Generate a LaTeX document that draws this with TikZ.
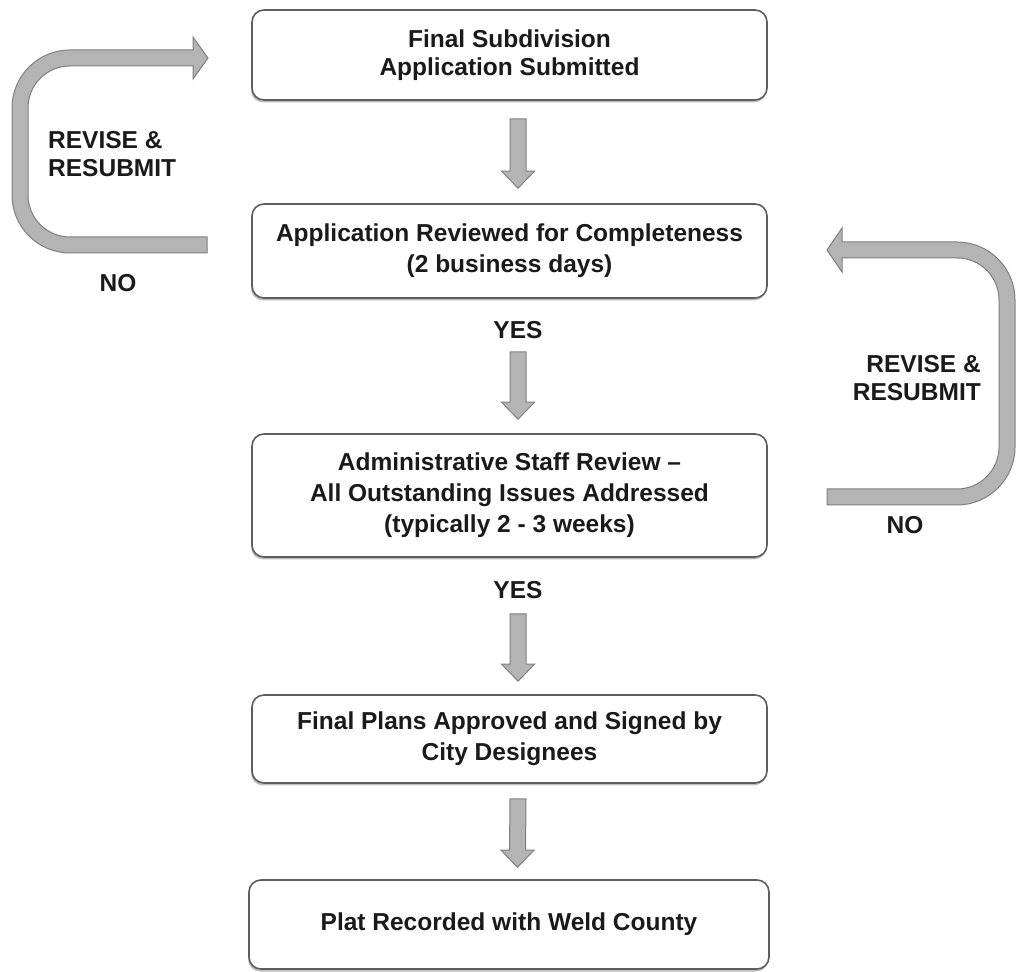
\documentclass[tikz,border=0pt]{standalone}
\usepackage{fontspec}
\setmainfont{Liberation Sans}
\usetikzlibrary{calc,shadows}
\definecolor{txt}{HTML}{1A1A1A}
\definecolor{boxline}{HTML}{5E5E5E}
\definecolor{arrfill}{HTML}{B4B4B4}
\definecolor{arrline}{HTML}{808080}
\tikzset{
  stepbox/.style={draw=boxline, line width=1.6pt, fill=white, rounded corners=12pt,
    minimum width=515pt, align=center, text=txt,
    font=\fontsize{24.5}{31}\selectfont\bfseries,
    drop shadow={shadow xshift=-1pt, shadow yshift=-2.5pt, opacity=0.25, fill=black}},
  lbl/.style={text=txt, font=\fontsize{24.5}{28}\selectfont\bfseries, inner sep=0pt},
  barrow/.style={fill=arrfill, draw=arrline, line width=1pt, line join=miter}
}
\newcommand{\blockdown}[2]{%
  \draw[barrow] ($(#1)+(-8,0)$) -- ($(#2)+(-8,17)$) -- ($(#2)+(-16.5,17)$) -- (#2)
    -- ($(#2)+(16.5,17)$) -- ($(#2)+(8,17)$) -- ($(#1)+(8,0)$) -- cycle;}
\begin{document}
\begin{tikzpicture}[x=1pt,y=1pt]
\useasboundingbox (0,0) rectangle (1016,971);
% boxes
\node[stepbox, minimum height=90pt, font=\fontsize{24.5}{28}\selectfont\bfseries] (b1) at (509.5,916) {Final Subdivision\\Application Submitted};
\node[stepbox, minimum height=94pt] (b2) at (509.5,720) {Application Reviewed for Completeness\\(2 business days)};
\node[stepbox, minimum height=123pt] (b3) at (509.5,475.5) {Administrative Staff Review --\\All Outstanding Issues Addressed\\(typically 2 - 3 weeks)};
\node[stepbox, minimum height=88pt] (b4) at (509.5,232) {Final Plans Approved and Signed by\\City Designees};
\node[stepbox, minimum height=89pt, minimum width=520pt] (b5) at (509,46.5) {Plat Recorded with Weld County};
% straight connectors
\coordinate (s1) at ($(b1.south)+(8.5,-18)$);
\coordinate (t1) at ($(b2.north)+(8.5,15)$);
\coordinate (s2) at ($(b2.south)+(8.5,-53)$);
\coordinate (t2) at ($(b3.north)+(8.5,14)$);
\coordinate (s3) at ($(b3.south)+(8.5,-56)$);
\coordinate (t3) at ($(b4.north)+(8.5,13)$);
\coordinate (s4) at ($(b4.south)+(8.5,-15)$);
\coordinate (t4) at ($(b5.north)+(8.5,12)$);
\blockdown{s1}{t1}
\blockdown{s2}{t2}
\blockdown{s3}{t3}
\blockdown{s4}{t4}
% labels
\node[lbl] (yes1) at (518,641) {YES};
\node[lbl] (yes2) at (518,381) {YES};
\node[lbl, anchor=west, align=left] (rev1) at (48,817) {REVISE \&\\RESUBMIT};
\node[lbl, anchor=east, align=right] (rev2) at (981,592.5) {REVISE \&\\RESUBMIT};
\node[lbl] (no1) at (118,688) {NO};
\node[lbl] (no2) at (905,446) {NO};
% left loop: from b2 back to b1
\draw[barrow] (207,718) -- (70,718) arc[start angle=270, end angle=180, radius=58]
  -- (12,863) arc[start angle=180, end angle=90, radius=58]
  -- (193,921) -- (193,934) -- (208,913) -- (193,892) -- (193,905)
  -- (70,905) arc[start angle=90, end angle=180, radius=42]
  -- (28,776) arc[start angle=180, end angle=270, radius=42]
  -- (207,734) -- cycle;
% right loop: from b3 back to b2
\draw[barrow] (827,482) -- (957,482) arc[start angle=270, end angle=360, radius=42]
  -- (999,671) arc[start angle=0, end angle=90, radius=42]
  -- (842,713) -- (842,699) -- (827,721) -- (842,743) -- (842,729)
  -- (957,729) arc[start angle=90, end angle=0, radius=58]
  -- (1015,524) arc[start angle=0, end angle=-90, radius=58]
  -- (827,466) -- cycle;
\end{tikzpicture}
\end{document}
